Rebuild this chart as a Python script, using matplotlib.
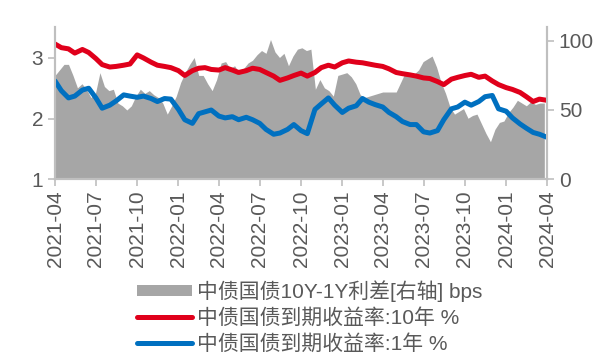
import numpy as np
import pandas as pd
import matplotlib
matplotlib.use("Agg")
import matplotlib.pyplot as plt
import matplotlib.dates as mdates

plt.rcParams['font.family'] = ['Liberation Sans', 'Noto Sans CJK SC', 'DejaVu Sans']
plt.rcParams['axes.unicode_minus'] = False

# yields on the 1st / 15th of every month
line_dates = pd.date_range('2021-04-01', '2024-04-01', freq='SMS')
y10 = [3.23, 3.17, 3.15, 3.08, 3.14, 3.09, 2.99, 2.89, 2.85, 2.86, 2.88, 2.90,
       3.05, 3.00, 2.93, 2.88, 2.86, 2.84, 2.79, 2.71, 2.79, 2.83, 2.84, 2.81,
       2.80, 2.84, 2.80, 2.76, 2.79, 2.83, 2.81, 2.76, 2.70, 2.63, 2.67, 2.71,
       2.75, 2.70, 2.76, 2.84, 2.88, 2.85, 2.92, 2.95, 2.93, 2.92, 2.90, 2.88,
       2.86, 2.82, 2.76, 2.74, 2.72, 2.70, 2.67, 2.66, 2.61, 2.56, 2.65, 2.68,
       2.71, 2.73, 2.68, 2.70, 2.62, 2.56, 2.51, 2.48, 2.43, 2.36, 2.28, 2.32,
       2.30]
y1 = [2.62, 2.46, 2.34, 2.37, 2.47, 2.50, 2.34, 2.17, 2.22, 2.29, 2.39, 2.37,
      2.35, 2.37, 2.33, 2.28, 2.33, 2.32, 2.15, 1.98, 1.92, 2.08, 2.11, 2.14,
      2.04, 2.01, 2.03, 1.98, 2.02, 1.98, 1.92, 1.82, 1.74, 1.76, 1.82, 1.90,
      1.80, 1.75, 2.15, 2.24, 2.34, 2.22, 2.10, 2.17, 2.21, 2.33, 2.27, 2.23,
      2.19, 2.10, 2.03, 1.95, 1.90, 1.90, 1.78, 1.76, 1.80, 1.98, 2.16, 2.19,
      2.27, 2.22, 2.28, 2.36, 2.38, 2.16, 2.12, 2.01, 1.91, 1.84, 1.77, 1.74,
      1.69]

# 10Y-1Y spread (bps), every 10 days
spread_dates = pd.date_range('2021-04-01', '2024-04-01', freq='10D')
spread = [75, 79, 83, 83, 75, 66, 69, 65, 59, 62, 77, 67, 64, 65, 55, 53, 50, 53,
          60, 65, 62, 64, 61, 59, 55, 47, 53, 60, 70, 77, 83, 88, 75, 75, 69, 64,
          72, 84, 85, 80, 82, 77, 80, 84, 86, 90, 93, 91, 101, 92, 88, 91, 82, 89,
          94, 95, 93, 94, 65, 72, 66, 64, 60, 75, 76, 77, 74, 69, 61, 59, 60, 61,
          62, 63, 63, 63, 63, 70, 77, 76, 76, 79, 85, 87, 89, 81, 70, 62, 52, 47,
          49, 51, 44, 46, 47, 40, 33, 27, 36, 41, 42, 48, 52, 57, 55, 53, 56, 54,
          55, 55]

labels = ['中债国债10Y-1Y利差[右轴] bps', '中债国债到期收益率:10年 %', '中债国债到期收益率:1年 %']
c_gray, c_red, c_blue = '#a6a6a6', '#e0001b', '#0070c0'
c_axis, c_text = '#bfbfbf', '#595959'

fig = plt.figure(figsize=(6.08, 3.56), dpi=100)
ax = fig.add_axes([0.0905, 0.497, 0.8092, 0.427])
ax2 = ax.twinx()

area = ax2.fill_between(spread_dates, spread, 0, color=c_gray, lw=0)
l10, = ax.plot(line_dates, y10, color=c_red, lw=3.6, solid_capstyle='round')
l1, = ax.plot(line_dates, y1, color=c_blue, lw=3.6, solid_capstyle='round')

# keep the lines above the shaded spread
ax.set_zorder(ax2.get_zorder() + 1)
ax.patch.set_visible(False)

ax.set_xlim(pd.Timestamp('2021-04-01'), pd.Timestamp('2024-04-01'))
ax.set_ylim(1, 3.51)
ax2.set_ylim(0, 110)
ax.set_yticks([1, 2, 3])
ax2.set_yticks([0, 50, 100])

ax.xaxis.set_major_locator(mdates.MonthLocator(bymonth=[1, 4, 7, 10]))
ax.xaxis.set_major_formatter(mdates.DateFormatter('%Y-%m'))

for a in (ax, ax2):
    a.spines['top'].set_visible(False)
    for s in ('left', 'right', 'bottom'):
        a.spines[s].set_color(c_axis)
        a.spines[s].set_linewidth(1.5)
    a.tick_params(colors=c_axis, labelcolor=c_text, labelsize=15, length=5, width=1.2)
ax.tick_params(axis='x', rotation=90, pad=3)

fig.legend([area, l10, l1], labels, loc='upper left', bbox_to_anchor=(0.226, 0.213),
           frameon=False, fontsize=15, handlelength=2.6, handleheight=0.5,
           handletextpad=0.28, labelspacing=0.3, borderaxespad=0, borderpad=0,
           labelcolor=c_text)

fig.savefig('out.png', dpi=100)
